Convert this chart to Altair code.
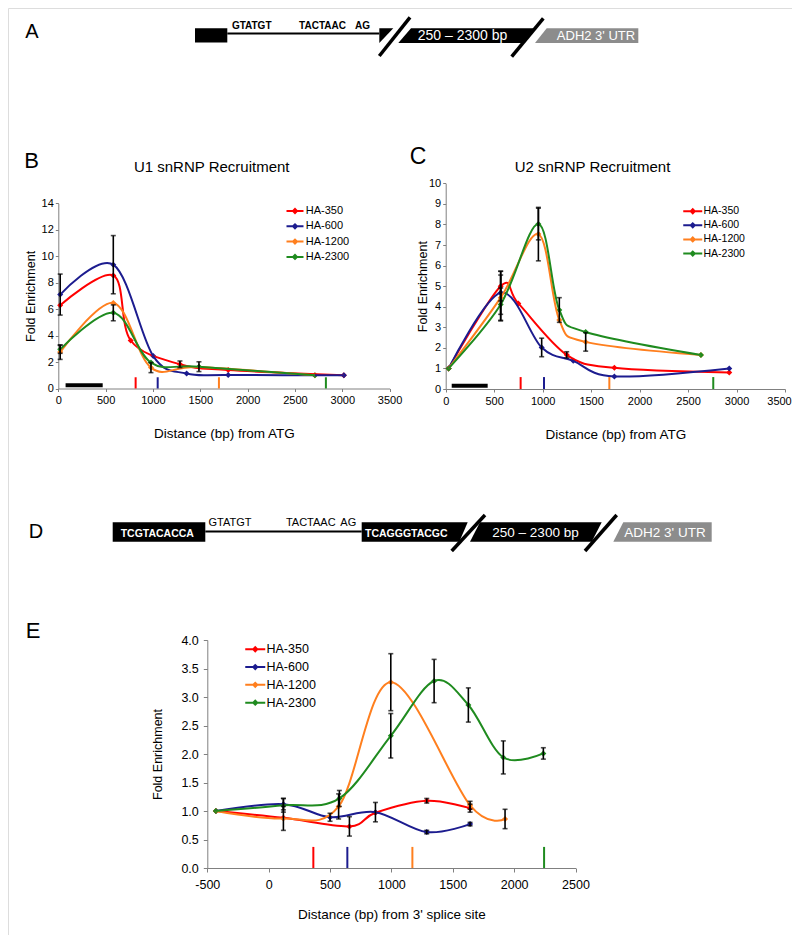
import altair as alt
import pandas as pd

W, H = 784, 927
FONT = "Liberation Sans"
AXC = "#808080"

SERIES = ["HA-350", "HA-600", "HA-1200", "HA-2300"]
COLORS = ["#ff0000", "#1c1c8f", "#ff7f1e", "#1f8b1f"]

# ---------------- Panel B : U1 snRNP recruitment ----------------
b_350_x = [20, 581, 765, 1285, 1795, 3017]
b_350_y = [6.3, 8.55, 3.63, 1.83, 1.4, 1.0]
b_350_e = [0, 0, 0, 0.25, 0, 0]
b_600_x = [20, 581, 1003, 1356, 1795, 3017]
b_600_y = [7.1, 9.36, 2.45, 1.13, 1.02, 1.0]
b_600_e = [1.55, 2.2, 0, 0, 0, 0]
b_1200_x = [20, 581, 979, 1486, 2711]
b_1200_y = [2.75, 6.47, 1.58, 1.62, 1.0]
b_1200_e = [0.55, 0, 0.38, 0, 0]
b_2300_x = [20, 581, 979, 1486, 2711]
b_2300_y = [2.96, 5.72, 1.96, 1.65, 1.0]
b_2300_e = [0.3, 0.6, 0, 0.37, 0]
b_tick_x = [817, 1050, 1697, 2827]
b_tick_h = 0.85
b_probe = [77, 469]
b_probe_y = 0.25

# ---------------- Panel C : U2 snRNP recruitment ----------------
c_350_x = [30, 567, 749, 1248, 1740, 2925]
c_350_y = [1.0, 5.0, 4.16, 1.66, 1.03, 0.8]
c_350_e = [0, 0.72, 0, 0.15, 0, 0]
c_600_x = [30, 567, 990, 1316, 1740, 2925]
c_600_y = [1.0, 4.68, 2.02, 1.37, 0.61, 1.0]
c_600_e = [0, 1.05, 0.45, 0, 0, 0]
c_1200_x = [30, 567, 956, 1172, 1444, 2633]
c_1200_y = [1.0, 4.44, 7.53, 3.35, 2.29, 1.65]
c_1200_e = [0, 1.1, 1.3, 0, 0.45, 0]
c_2300_x = [30, 567, 956, 1172, 1444, 2633]
c_2300_y = [1.0, 4.11, 8.02, 3.84, 2.77, 1.65]
c_2300_e = [0, 0.8, 0.77, 0.6, 0, 0]
c_tick_x = [773, 1014, 1688, 2760]
c_tick_h = 0.58
c_probe = [62, 433]
c_probe_y = 0.16

# ---------------- Panel E : from 3' splice site ----------------
e_350_x = [-430, 120, 658, 870, 1288, 1641]
e_350_y = [1.0, 0.88, 0.73, 0.97, 1.18, 1.05]
e_350_e = [0, 0, 0.17, 0, 0.04, 0.07]
e_600_x = [-430, 120, 500, 870, 1288, 1641]
e_600_y = [1.0, 1.12, 0.89, 0.98, 0.63, 0.77]
e_600_e = [0, 0.1, 0.07, 0.17, 0.03, 0.03]
e_1200_x = [-430, 120, 570, 995, 1641, 1926]
e_1200_y = [1.0, 0.87, 1.08, 3.26, 1.1, 0.86]
e_1200_e = [0, 0.21, 0.22, 0.5, 0.07, 0.17]
e_2300_x = [-430, 120, 576, 995, 1348, 1627, 1912, 2238]
e_2300_y = [1.0, 1.1, 1.22, 2.32, 3.28, 2.86, 1.94, 2.01]
e_2300_e = [0, 0.12, 0.14, 0.39, 0.38, 0.3, 0.29, 0.1]
e_tick_x = [364, 641, 1171, 2244]
e_tick_h = 0.37

# text content
TITLE_B = "U1 snRNP Recruitment"
TITLE_C = "U2 snRNP Recruitment"
XT_BC = "Distance (bp) from ATG"
XT_E = "Distance (bp) from 3' splice site"
YT = "Fold Enrichment"


def legend_symbol(r, half_len, dia, thick):
    """Line-with-diamond legend glyph, in units of the nominal symbol radius r."""
    L, D, T = half_len / r, dia / r, thick / r
    return (f"M{-L:.3f},{-T:.3f}L{L:.3f},{-T:.3f}L{L:.3f},{T:.3f}L{-L:.3f},{T:.3f}Z "
            f"M0,{-D:.3f}L{D:.3f},0L0,{D:.3f}L{-D:.3f},0Z")


def long_df(xs, ys, es):
    rows = []
    for s, x, y, e in zip(SERIES, xs, ys, es):
        for xi, yi, ei in zip(x, y, e):
            rows.append({"series": s, "x": xi, "y": yi, "err": ei,
                         "lo": yi - ei, "hi": yi + ei})
    return pd.DataFrame(rows)


def panel(df, tick_x, tick_h, probe, probe_y, xdom, xr, ydom, yr, xvals, yvals,
          yfmt, xtitle, ax, lg, last_label_shift=0):
    xs = alt.Scale(domain=xdom, range=xr, nice=False, zero=False)
    ys = alt.Scale(domain=ydom, range=yr, nice=False, zero=False)
    common = dict(grid=False, labelFlush=False, labelOverlap=False,
                  tickSize=ax["tick"], labelFontSize=ax["lfs"],
                  titleFontWeight="normal", domainColor=AXC, tickColor=AXC,
                  labelColor="black", titleColor="black", labelFont=FONT,
                  titleFont=FONT, titleBaseline="middle")
    xextra = {}
    if last_label_shift:
        xextra["labelOffset"] = {"condition": {"test": f"datum.value == {xdom[1]}",
                                               "value": last_label_shift}, "value": 0}
    xaxis = alt.Axis(orient="bottom", offset=yr[0] - H, values=xvals,
                     labelExpr="'' + datum.value",
                     title=xtitle, labelPadding=ax["xpad"], titleY=ax["xty"],
                     titleFontSize=ax["tfs"], **common, **xextra)
    yaxis = alt.Axis(orient="left", offset=-xr[0], values=yvals, format=yfmt,
                     title=YT, labelPadding=ax["ypad"], titleX=ax["ytx"],
                     titleAngle=270, titleFontSize=ax["ytfs"], **common)
    r = lg["fs"] / 2.0
    color = alt.Color("series:N", scale=alt.Scale(domain=SERIES, range=COLORS),
                      legend=alt.Legend(orient="none", legendX=lg["cx"] - r,
                                        legendY=lg["cy"] - r,
                                        title=None, padding=0, labelFontSize=lg["fs"],
                                        labelFont=FONT, labelColor="black",
                                        symbolType=legend_symbol(r, lg["half"], 3.4, 1.0),
                                        symbolSize=(2 * r) ** 2,
                                        rowPadding=lg["spacing"] - lg["fs"],
                                        labelOffset=lg["lab"] - (lg["cx"] + r),
                                        symbolStrokeWidth=0, symbolOpacity=1))
    X = alt.X("x:Q", scale=xs, axis=xaxis)
    base = alt.Chart(df)
    pts = base.mark_point(shape="diamond", filled=True, size=36, opacity=1).encode(
        x=X, y=alt.Y("y:Q", scale=ys, axis=yaxis), color=color)
    lines = base.mark_line(interpolate="cardinal", strokeWidth=2).encode(
        x=X, y=alt.Y("y:Q", scale=ys, axis=yaxis), color=color)
    eb = base.transform_filter("datum.err > 0")
    rule = eb.mark_rule(color="black", strokeWidth=1.6).encode(
        x=X, y=alt.Y("lo:Q", scale=ys, axis=yaxis), y2="hi:Q")
    cap_lo = eb.mark_tick(color="black", orient="horizontal", size=5, thickness=1.6).encode(
        x=X, y=alt.Y("lo:Q", scale=ys, axis=yaxis))
    cap_hi = eb.mark_tick(color="black", orient="horizontal", size=5, thickness=1.6).encode(
        x=X, y=alt.Y("hi:Q", scale=ys, axis=yaxis))
    tdf = pd.DataFrame({"series": SERIES, "x": tick_x, "y0": [0] * 4, "y1": [tick_h] * 4})
    ticks = alt.Chart(tdf).mark_rule(strokeWidth=2).encode(
        x=X, y=alt.Y("y0:Q", scale=ys, axis=yaxis), y2="y1:Q", color=color)
    layers = [pts, lines, rule, cap_lo, cap_hi, ticks]
    if probe is not None:
        pdf = pd.DataFrame({"x": [probe[0]], "x1": [probe[1]], "yy": [probe_y]})
        layers.append(alt.Chart(pdf).mark_rule(color="black", strokeWidth=4, strokeCap="butt").encode(
            x=X, x2="x1:Q", y=alt.Y("yy:Q", scale=ys, axis=yaxis)))
    return alt.layer(*layers)


pB = panel(long_df([b_350_x, b_600_x, b_1200_x, b_2300_x],
                   [b_350_y, b_600_y, b_1200_y, b_2300_y],
                   [b_350_e, b_600_e, b_1200_e, b_2300_e]),
           b_tick_x, b_tick_h, b_probe, b_probe_y,
           [0, 3500], [50.3, 381.6], [0, 14], [380.5, 195.3],
           list(range(0, 3501, 500)), list(range(0, 15, 2)), "d", XT_BC,
           dict(tick=3, lfs=11, tfs=13.5, ytfs=12.5, xpad=3, ypad=2, xty=45, ytx=-28),
           dict(cx=287, cy=203, fs=11, half=8.5, spacing=14.3, lab=297.7))

pC = panel(long_df([c_350_x, c_600_x, c_1200_x, c_2300_x],
                   [c_350_y, c_600_y, c_1200_y, c_2300_y],
                   [c_350_e, c_600_e, c_1200_e, c_2300_e]),
           c_tick_x, c_tick_h, c_probe, c_probe_y,
           [0, 3500], [437.7, 777], [0, 10], [381, 175.3],
           list(range(0, 3501, 500)), list(range(0, 11, 1)), "d", XT_BC,
           dict(tick=3, lfs=11, tfs=13.5, ytfs=12.5, xpad=3, ypad=2, xty=45, ytx=-23),
           dict(cx=684.5, cy=203, fs=10.5, half=9.5, spacing=13.6, lab=695),
           last_label_shift=-6)

pE = panel(long_df([e_350_x, e_600_x, e_1200_x, e_2300_x],
                   [e_350_y, e_600_y, e_1200_y, e_2300_y],
                   [e_350_e, e_600_e, e_1200_e, e_2300_e]),
           e_tick_x, e_tick_h, None, None,
           [-500, 2500], [199.3, 567.5], [0, 4], [860, 632],
           list(range(-500, 2501, 500)), [i / 2 for i in range(0, 9)], ".1f", XT_E,
           dict(tick=4, lfs=12.5, tfs=13.5, ytfs=12.5, xpad=6, ypad=5, xty=46, ytx=-50),
           dict(cx=247, cy=641, fs=12.5, half=10, spacing=17.3, lab=258))

# ---------------- schematic diagrams (A and D) + panel letters ----------------
cx = alt.Scale(domain=[0, W], range=[0, W], nice=False, zero=False)
cy = alt.Scale(domain=[0, H], range=[0, H], nice=False, zero=False)
CX = lambda f: alt.X(f, scale=cx, axis=None)
CY = lambda f: alt.Y(f, scale=cy, axis=None, stack=None)

rects = pd.DataFrame({
    "x0": [187.0, 104.7], "x1": [219.3, 197.3],
    "y0": [20.3, 514.3], "y1": [34.5, 533.7],
    "c": ["black", "black"]})

area_shapes = [
    ("a_tri", "black", [(371.3, 20.3, 35.0), (385.3, 20.3, 20.3)]),
    ("a_mid", "black", [(390.3, 35.0, 35.0), (403.0, 20.3, 35.0), (513.7, 20.3, 35.0), (526.0, 20.3, 20.3)]),
    ("a_utr", "#8c8c8c", [(527.0, 35.0, 35.0), (538.7, 20.3, 35.0), (630.3, 20.3, 35.0)]),
    ("d_ex2", "black", [(353.7, 514.3, 533.7), (451.3, 514.3, 533.7), (459.7, 514.3, 514.3)]),
    ("d_mid", "black", [(462.0, 533.7, 533.7), (472.0, 514.3, 533.7), (583.7, 514.3, 533.7), (593.7, 514.3, 514.3)]),
    ("d_utr", "#8c8c8c", [(605.3, 533.7, 533.7), (615.3, 514.3, 533.7), (703.7, 514.3, 533.7)]),
]
arows = []
for name, col, pts_ in area_shapes:
    for (x, t, b) in pts_:
        arows.append({"shape": name, "c": col, "x": x, "top": t, "bot": b})
areas = pd.DataFrame(arows)

segs = pd.DataFrame({
    "x0": [219.3, 402.0, 535.3, 197.3, 477.0, 608.7],
    "y0": [25.6, 9.3, 10.3, 523.6, 507.0, 507.0],
    "x1": [371.3, 371.3, 503.7, 353.7, 443.7, 577.0],
    "y1": [25.6, 48.0, 48.7, 523.6, 543.0, 543.0],
    "w": [2.0, 3.5, 3.5, 2.0, 3.5, 3.5]})

txt_norm = pd.DataFrame({
    "t": ["250 \u2013 2300 bp", "ADH2 3' UTR", "250 \u2013 2300 bp", "ADH2 3' UTR",
          "GTATGT", "TACTAAC", "AG",
          "A", "B", "C", "D", "E", TITLE_B, TITLE_C],
    "x": [454.5, 588.0, 527.5, 657.0,
          222.0, 302.8, 340.3,
          24.0, 23.7, 410.0, 28.0, 25.0, 203.7, 584.5],
    "y": [28.0, 28.0, 524.5, 524.5,
          514.5, 514.5, 514.5,
          24.2, 153.3, 148.7, 523.7, 623.3, 158.7, 158.7],
    "fs": [14, 13, 13.5, 13.5,
           11, 11, 11,
           20, 22, 23, 20, 22, 15, 15],
    "c": ["white", "white", "white", "white",
          "black", "black", "black",
          "black", "black", "black", "black", "black", "black", "black"]})

txt_bold = pd.DataFrame({
    "t": ["GTATGT", "TACTAAC", "AG", "TCGTACACCA", "TCAGGGTACGC"],
    "x": [243.7, 314.5, 354.5, 149.3, 398.3],
    "y": [17.5, 17.5, 17.5, 526.3, 526.3],
    "fs": [10, 10, 10, 10.5, 10.5],
    "c": ["black", "black", "black", "white", "white"]})

canvas = alt.layer(
    alt.Chart(rects).mark_rect().encode(
        x=CX("x0:Q"), x2="x1:Q", y=CY("y0:Q"), y2="y1:Q",
        color=alt.Color("c:N", scale=None)),
    alt.Chart(areas).mark_area(interpolate="linear").encode(
        x=CX("x:Q"), y=CY("top:Q"), y2="bot:Q", detail="shape:N",
        color=alt.Color("c:N", scale=None)),
    alt.Chart(segs).mark_rule(color="black", strokeCap="butt").encode(
        x=CX("x0:Q"), y=CY("y0:Q"), x2="x1:Q", y2="y1:Q",
        strokeWidth=alt.StrokeWidth("w:Q", scale=None)),
    alt.Chart(txt_norm).mark_text(font=FONT, align="center", baseline="middle").encode(
        x=CX("x:Q"), y=CY("y:Q"), text="t:N",
        size=alt.Size("fs:Q", scale=None), color=alt.Color("c:N", scale=None)),
    alt.Chart(txt_bold).mark_text(font=FONT, align="center", baseline="middle", fontWeight="bold").encode(
        x=CX("x:Q"), y=CY("y:Q"), text="t:N",
        size=alt.Size("fs:Q", scale=None), color=alt.Color("c:N", scale=None)),
)

chart = alt.layer(canvas, pB, pC, pE).resolve_scale(
    x="independent", y="independent", color="independent"
).resolve_legend(color="independent").properties(
    width=W, height=H, padding=0, autosize=alt.AutoSizeParams(type="none")
).configure_view(stroke=None).configure(font=FONT)

chart.save("out.html", embed_options={"renderer": "svg", "actions": False})
